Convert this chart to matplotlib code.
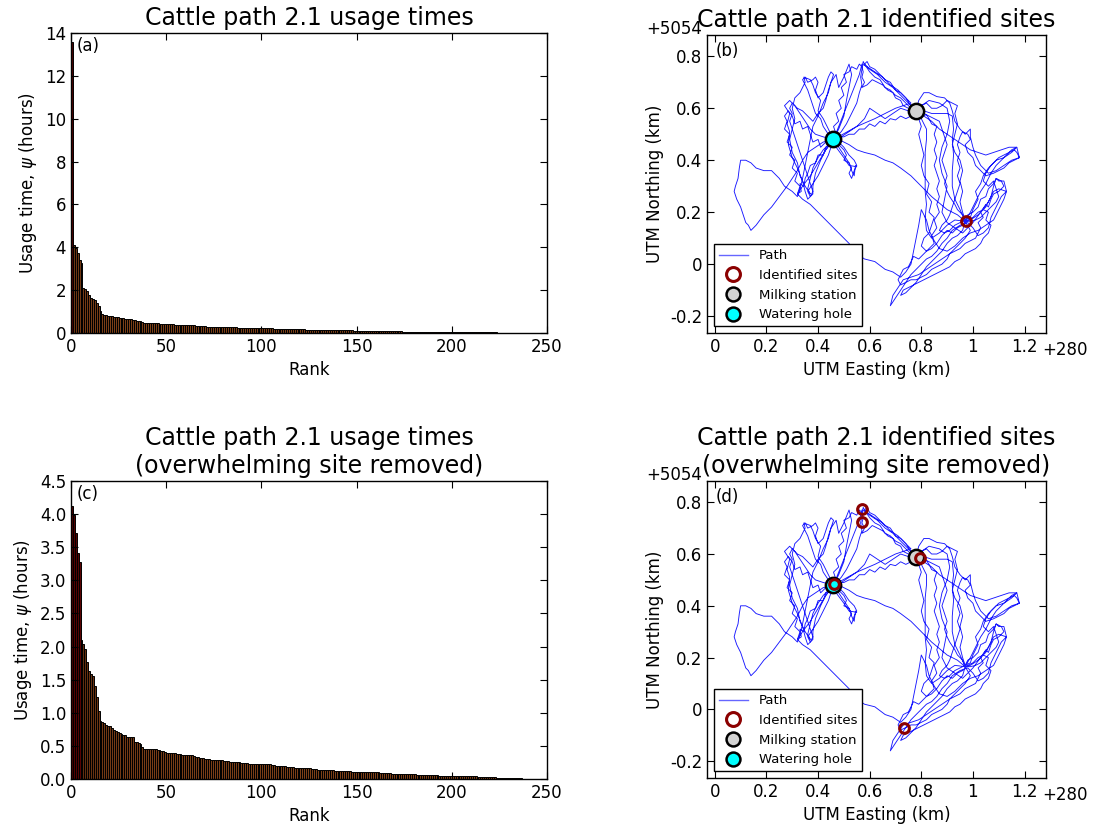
import matplotlib
matplotlib.use("Agg")
import matplotlib.pyplot as plt
from matplotlib.colors import LinearSegmentedColormap
from matplotlib.lines import Line2D
from matplotlib.ticker import FormatStrFormatter, FuncFormatter

plt.rcParams["axes.unicode_minus"] = False
plt.rcParams["font.family"] = "DejaVu Sans"

# usage times (hours), sorted by rank, overwhelming site removed
usage_removed = [
    4.12, 3.98, 3.72, 3.41, 3.27, 2.10, 2.04, 1.96, 1.76, 1.63,
    1.58, 1.56, 1.41, 1.24, 1.02, 0.87, 0.86, 0.84, 0.81, 0.80,
    0.80, 0.77, 0.74, 0.73, 0.71, 0.69, 0.68, 0.67, 0.66, 0.64,
    0.64, 0.63, 0.63, 0.56, 0.56, 0.55, 0.53, 0.48, 0.46, 0.46,
    0.46, 0.46, 0.45, 0.45, 0.45, 0.44, 0.44, 0.42, 0.42, 0.41,
    0.40, 0.40, 0.40, 0.39, 0.39, 0.38, 0.38, 0.38, 0.37, 0.37,
    0.37, 0.36, 0.36, 0.36, 0.35, 0.34, 0.33, 0.32, 0.31, 0.31,
    0.30, 0.30, 0.30, 0.29, 0.29, 0.29, 0.29, 0.28, 0.28, 0.28,
    0.27, 0.27, 0.27, 0.26, 0.26, 0.26, 0.25, 0.25, 0.25, 0.24,
    0.24, 0.24, 0.24, 0.23, 0.23, 0.23, 0.23, 0.23, 0.23, 0.23,
    0.23, 0.22, 0.22, 0.22, 0.22, 0.21, 0.21, 0.20, 0.20, 0.20,
    0.19, 0.19, 0.19, 0.18, 0.18, 0.18, 0.18, 0.17, 0.17, 0.17,
    0.17, 0.17, 0.16, 0.16, 0.16, 0.16, 0.15, 0.15, 0.15, 0.14,
    0.14, 0.14, 0.14, 0.14, 0.13, 0.13, 0.13, 0.13, 0.12, 0.12,
    0.12, 0.12, 0.12, 0.12, 0.12, 0.12, 0.12, 0.11, 0.11, 0.11,
    0.11, 0.11, 0.11, 0.11, 0.11, 0.11, 0.11, 0.10, 0.10, 0.10,
    0.10, 0.10, 0.09, 0.09, 0.09, 0.09, 0.09, 0.09, 0.08, 0.08,
    0.08, 0.08, 0.08, 0.07, 0.07, 0.07, 0.07, 0.07, 0.07, 0.07,
    0.07, 0.06, 0.06, 0.06, 0.06, 0.06, 0.06, 0.06, 0.06, 0.06,
    0.06, 0.06, 0.06, 0.05, 0.05, 0.05, 0.05, 0.05, 0.05, 0.05,
    0.05, 0.05, 0.05, 0.04, 0.04, 0.04, 0.04, 0.04, 0.04, 0.04,
    0.04, 0.04, 0.04, 0.03, 0.03, 0.03, 0.03, 0.03, 0.03, 0.03,
    0.03, 0.025, 0.025, 0.02, 0.02, 0.02, 0.02, 0.02, 0.015, 0.015,
    0.015, 0.012, 0.012, 0.01, 0.01, 0.008, 0.008, 0.006, 0.005, 0.005,
]
overwhelming_site = [13.6]
usage_all = overwhelming_site + usage_removed

# GPS track legs, (easting, northing) in km relative to (280 E, 5054 N)
leg_01 = [(0.78, 0.59), (0.76, 0.61), (0.74, 0.63), (0.72, 0.65), (0.69, 0.68), (0.66, 0.70), (0.63, 0.73),
          (0.60, 0.75), (0.58, 0.77), (0.575, 0.78), (0.57, 0.75), (0.565, 0.72), (0.57, 0.69), (0.56, 0.66),
          (0.55, 0.62), (0.53, 0.58), (0.51, 0.54), (0.49, 0.51), (0.46, 0.48)]
leg_02 = [(0.44, 0.46), (0.42, 0.44), (0.40, 0.41), (0.38, 0.37), (0.37, 0.33), (0.36, 0.29), (0.37, 0.27),
          (0.35, 0.30), (0.33, 0.34), (0.32, 0.39), (0.30, 0.43), (0.29, 0.48), (0.30, 0.52), (0.31, 0.56),
          (0.30, 0.60), (0.31, 0.64), (0.33, 0.66), (0.35, 0.70), (0.345, 0.72), (0.37, 0.71), (0.38, 0.69),
          (0.39, 0.66), (0.41, 0.63), (0.40, 0.59), (0.42, 0.56), (0.44, 0.52), (0.46, 0.48)]
leg_03 = [(0.48, 0.52), (0.50, 0.57), (0.51, 0.63), (0.52, 0.68), (0.53, 0.73), (0.52, 0.77), (0.50, 0.72),
          (0.48, 0.68), (0.47, 0.73), (0.45, 0.70), (0.44, 0.66), (0.42, 0.62), (0.40, 0.57), (0.38, 0.53),
          (0.37, 0.48), (0.36, 0.43), (0.35, 0.38), (0.34, 0.33), (0.33, 0.29), (0.32, 0.26)]
leg_04 = [(0.30, 0.28), (0.27, 0.30), (0.25, 0.33), (0.22, 0.36), (0.19, 0.36), (0.16, 0.37), (0.14, 0.39),
          (0.12, 0.40), (0.10, 0.40), (0.095, 0.37), (0.09, 0.33), (0.08, 0.30), (0.075, 0.28), (0.085, 0.25),
          (0.10, 0.22), (0.11, 0.19), (0.12, 0.16), (0.13, 0.15), (0.14, 0.13), (0.16, 0.15), (0.19, 0.19),
          (0.22, 0.22), (0.25, 0.26), (0.28, 0.30), (0.30, 0.33), (0.32, 0.36), (0.34, 0.40), (0.36, 0.43),
          (0.39, 0.45), (0.42, 0.47), (0.46, 0.48)]
leg_05 = [(0.49, 0.475), (0.52, 0.46), (0.55, 0.44), (0.58, 0.43), (0.62, 0.42), (0.66, 0.40), (0.69, 0.39),
          (0.72, 0.37), (0.76, 0.34), (0.79, 0.31), (0.81, 0.29), (0.84, 0.26), (0.87, 0.235), (0.90, 0.21),
          (0.94, 0.19), (0.97, 0.165)]
leg_06 = [(0.99, 0.17), (1.02, 0.19), (1.05, 0.22), (1.07, 0.26), (1.08, 0.30), (1.09, 0.33), (1.10, 0.32),
          (1.12, 0.32), (1.13, 0.28), (1.11, 0.26), (1.09, 0.22), (1.07, 0.18), (1.06, 0.14), (1.04, 0.12),
          (1.02, 0.11), (1.00, 0.14), (0.98, 0.16), (0.95, 0.15), (0.92, 0.13), (0.90, 0.10), (0.88, 0.08),
          (0.86, 0.05), (0.84, 0.03), (0.82, 0.02), (0.80, 0.00), (0.78, -0.02), (0.76, -0.04), (0.74, -0.07),
          (0.72, -0.10), (0.70, -0.13), (0.68, -0.16), (0.69, -0.12), (0.71, -0.09), (0.73, -0.06),
          (0.76, -0.05), (0.79, -0.04), (0.82, -0.02), (0.85, 0.00), (0.88, 0.02), (0.91, 0.04), (0.94, 0.07),
          (0.97, 0.10), (0.99, 0.13), (0.97, 0.165)]
leg_07 = [(0.99, 0.20), (1.01, 0.24), (1.03, 0.28), (1.05, 0.31), (1.07, 0.35), (1.09, 0.38), (1.12, 0.41),
          (1.15, 0.44), (1.17, 0.45), (1.18, 0.41), (1.15, 0.40), (1.12, 0.38), (1.09, 0.36), (1.06, 0.35),
          (1.03, 0.38), (1.01, 0.42), (1.00, 0.45), (0.99, 0.49), (0.99, 0.52), (0.97, 0.50), (0.95, 0.52),
          (0.93, 0.55), (0.92, 0.59), (0.91, 0.62), (0.89, 0.64), (0.86, 0.645), (0.83, 0.66), (0.81, 0.66),
          (0.79, 0.63), (0.78, 0.59)]
leg_08 = [(0.80, 0.56), (0.82, 0.52), (0.82, 0.48), (0.815, 0.43), (0.815, 0.38), (0.815, 0.33), (0.815, 0.28),
          (0.82, 0.23), (0.815, 0.18), (0.82, 0.13), (0.84, 0.10), (0.87, 0.12), (0.90, 0.15), (0.93, 0.17),
          (0.97, 0.165), (0.95, 0.21), (0.93, 0.25), (0.92, 0.30), (0.92, 0.36), (0.925, 0.42), (0.92, 0.48),
          (0.925, 0.52), (0.92, 0.57), (0.90, 0.58), (0.87, 0.58), (0.84, 0.58), (0.81, 0.59), (0.78, 0.59)]
leg_09 = [(0.75, 0.59), (0.72, 0.60), (0.69, 0.58), (0.66, 0.56), (0.63, 0.58), (0.60, 0.60), (0.58, 0.56),
          (0.55, 0.53), (0.52, 0.51), (0.49, 0.49), (0.46, 0.48)]
leg_10 = [(0.48, 0.45), (0.50, 0.42), (0.52, 0.39), (0.53, 0.36), (0.54, 0.34), (0.545, 0.38), (0.55, 0.375),
          (0.52, 0.38), (0.50, 0.41), (0.47, 0.45), (0.46, 0.48)]
leg_11 = [(0.43, 0.44), (0.41, 0.40), (0.39, 0.35), (0.38, 0.30), (0.38, 0.27), (0.36, 0.25), (0.35, 0.28),
          (0.34, 0.32), (0.32, 0.37), (0.30, 0.41), (0.285, 0.46), (0.29, 0.51), (0.28, 0.54), (0.29, 0.58),
          (0.27, 0.61), (0.29, 0.63), (0.31, 0.61), (0.33, 0.58), (0.35, 0.55), (0.37, 0.52), (0.39, 0.50),
          (0.42, 0.49), (0.46, 0.48)]
leg_12 = [(0.48, 0.53), (0.50, 0.58), (0.52, 0.63), (0.54, 0.68), (0.56, 0.73), (0.57, 0.77), (0.59, 0.76),
          (0.62, 0.74), (0.65, 0.72), (0.68, 0.69), (0.71, 0.67), (0.74, 0.64), (0.76, 0.61), (0.78, 0.59)]
leg_13 = [(0.80, 0.61), (0.83, 0.63), (0.87, 0.62), (0.90, 0.60), (0.91, 0.55), (0.90, 0.50), (0.88, 0.45),
          (0.87, 0.40), (0.88, 0.35), (0.90, 0.30), (0.89, 0.25), (0.88, 0.20), (0.90, 0.16), (0.93, 0.14),
          (0.96, 0.12), (1.00, 0.16), (1.03, 0.20), (1.06, 0.24), (1.08, 0.28), (1.10, 0.29), (1.13, 0.28),
          (1.12, 0.25), (1.10, 0.21), (1.08, 0.17), (1.05, 0.15), (1.02, 0.13), (0.99, 0.12), (0.96, 0.10),
          (0.93, 0.07), (0.90, 0.05), (0.87, 0.06), (0.85, 0.09), (0.83, 0.13), (0.82, 0.17), (0.80, 0.21),
          (0.79, 0.15), (0.78, 0.10), (0.77, 0.05), (0.76, 0.00), (0.74, -0.03), (0.72, -0.05)]
leg_14 = [(0.69, -0.03), (0.66, -0.02), (0.62, 0.01), (0.58, 0.02), (0.55, 0.04), (0.52, 0.08), (0.49, 0.11),
          (0.46, 0.14), (0.43, 0.17), (0.40, 0.20), (0.37, 0.23), (0.34, 0.25), (0.32, 0.27), (0.34, 0.30),
          (0.37, 0.34), (0.40, 0.39), (0.43, 0.44), (0.46, 0.48)]
leg_15 = [(0.45, 0.46), (0.43, 0.45), (0.42, 0.42), (0.40, 0.42), (0.39, 0.39), (0.37, 0.38), (0.36, 0.35),
          (0.35, 0.33), (0.345, 0.30), (0.33, 0.31), (0.335, 0.28), (0.32, 0.27), (0.33, 0.30), (0.31, 0.32),
          (0.32, 0.35), (0.30, 0.37), (0.31, 0.40), (0.29, 0.42), (0.30, 0.45), (0.28, 0.47), (0.29, 0.50),
          (0.27, 0.52), (0.28, 0.55), (0.27, 0.57), (0.285, 0.59), (0.30, 0.57), (0.31, 0.54), (0.33, 0.55),
          (0.34, 0.52), (0.36, 0.53), (0.37, 0.50), (0.38, 0.47), (0.40, 0.48), (0.41, 0.45), (0.43, 0.47),
          (0.45, 0.47)]
leg_16 = [(0.47, 0.50), (0.46, 0.53), (0.48, 0.55), (0.47, 0.58), (0.49, 0.60), (0.48, 0.63), (0.50, 0.65),
          (0.49, 0.68), (0.51, 0.70), (0.50, 0.73), (0.52, 0.74), (0.53, 0.76), (0.55, 0.75), (0.56, 0.77),
          (0.57, 0.76), (0.575, 0.74), (0.57, 0.72), (0.58, 0.70), (0.57, 0.68), (0.59, 0.69), (0.61, 0.71),
          (0.63, 0.70), (0.65, 0.69), (0.67, 0.67), (0.69, 0.66), (0.70, 0.64), (0.72, 0.63), (0.73, 0.61),
          (0.75, 0.60), (0.77, 0.60)]
leg_17 = [(0.79, 0.58), (0.80, 0.57), (0.82, 0.575), (0.83, 0.56), (0.84, 0.54), (0.86, 0.53), (0.85, 0.50),
          (0.86, 0.47), (0.85, 0.44), (0.86, 0.41), (0.85, 0.38), (0.86, 0.35), (0.87, 0.32), (0.86, 0.29),
          (0.87, 0.26), (0.86, 0.23), (0.87, 0.20), (0.85, 0.17), (0.86, 0.14), (0.84, 0.11), (0.85, 0.08),
          (0.83, 0.06), (0.81, 0.04), (0.79, 0.02), (0.77, 0.03), (0.76, 0.01), (0.75, -0.01), (0.73, -0.02),
          (0.72, -0.04), (0.71, -0.06), (0.72, -0.08), (0.74, -0.07), (0.76, -0.06), (0.78, -0.06),
          (0.80, -0.05), (0.82, -0.04), (0.84, -0.02), (0.86, -0.01), (0.88, 0.00), (0.90, 0.02), (0.91, 0.04),
          (0.93, 0.05), (0.95, 0.06), (0.97, 0.08), (0.99, 0.09), (1.01, 0.10), (1.02, 0.12), (1.03, 0.14),
          (1.02, 0.16), (1.04, 0.18), (1.03, 0.20), (1.05, 0.23), (1.06, 0.22), (1.07, 0.25), (1.08, 0.27),
          (1.10, 0.28), (1.12, 0.30), (1.11, 0.32), (1.09, 0.33), (1.08, 0.31), (1.06, 0.29), (1.05, 0.26),
          (1.03, 0.25), (1.02, 0.22), (1.00, 0.20), (0.98, 0.19), (0.97, 0.17)]
leg_18 = [(0.99, 0.18), (1.00, 0.21), (1.02, 0.25), (1.01, 0.28), (1.03, 0.31), (1.04, 0.34), (1.06, 0.37),
          (1.08, 0.39), (1.10, 0.41), (1.12, 0.42), (1.14, 0.43), (1.16, 0.44), (1.17, 0.43), (1.18, 0.41),
          (1.16, 0.40), (1.14, 0.39), (1.12, 0.37), (1.10, 0.36), (1.08, 0.35), (1.05, 0.34), (1.03, 0.36),
          (1.01, 0.38), (1.00, 0.41), (0.98, 0.43), (0.97, 0.46), (0.99, 0.48), (0.98, 0.50), (0.96, 0.51),
          (0.95, 0.49), (0.94, 0.46), (0.95, 0.43), (0.94, 0.40), (0.95, 0.37), (0.94, 0.34), (0.95, 0.31),
          (0.94, 0.28), (0.93, 0.25), (0.92, 0.22), (0.91, 0.19), (0.90, 0.17), (0.88, 0.15), (0.87, 0.13),
          (0.89, 0.12), (0.91, 0.13), (0.93, 0.15), (0.95, 0.16), (0.97, 0.17)]
leg_19 = [(0.96, 0.20), (0.95, 0.24), (0.96, 0.28), (0.95, 0.32), (0.96, 0.36), (0.95, 0.40), (0.93, 0.43),
          (0.92, 0.46), (0.93, 0.50), (0.94, 0.54), (0.93, 0.58), (0.94, 0.61), (0.92, 0.62), (0.90, 0.63),
          (0.88, 0.61), (0.86, 0.60), (0.84, 0.60), (0.82, 0.62), (0.80, 0.61), (0.78, 0.59)]
leg_20 = [(0.76, 0.57), (0.74, 0.56), (0.72, 0.57), (0.70, 0.555), (0.68, 0.56), (0.66, 0.54), (0.64, 0.55),
          (0.62, 0.53), (0.60, 0.54), (0.58, 0.52), (0.56, 0.52), (0.54, 0.50), (0.52, 0.50), (0.50, 0.49),
          (0.48, 0.49), (0.46, 0.48)]
leg_21 = [(0.44, 0.50), (0.42, 0.53), (0.41, 0.56), (0.39, 0.58), (0.38, 0.61), (0.37, 0.64), (0.36, 0.67),
          (0.35, 0.69), (0.34, 0.71), (0.35, 0.72), (0.36, 0.70), (0.38, 0.71), (0.39, 0.72), (0.40, 0.70),
          (0.39, 0.67), (0.40, 0.64), (0.42, 0.66), (0.43, 0.69), (0.44, 0.72), (0.45, 0.74), (0.46, 0.73),
          (0.45, 0.70), (0.44, 0.67), (0.43, 0.63), (0.42, 0.60), (0.40, 0.58), (0.38, 0.55), (0.36, 0.57),
          (0.34, 0.59), (0.32, 0.60), (0.30, 0.62), (0.29, 0.60), (0.30, 0.58), (0.29, 0.55), (0.30, 0.52),
          (0.31, 0.49), (0.32, 0.46), (0.33, 0.43), (0.34, 0.40), (0.35, 0.37), (0.36, 0.34), (0.37, 0.31),
          (0.38, 0.28), (0.37, 0.26), (0.36, 0.28), (0.38, 0.31), (0.40, 0.34), (0.42, 0.38), (0.44, 0.42),
          (0.45, 0.45), (0.46, 0.48)]
leg_22 = [(0.48, 0.46), (0.50, 0.44), (0.51, 0.42), (0.50, 0.40), (0.52, 0.39), (0.53, 0.37), (0.52, 0.35),
          (0.53, 0.33), (0.54, 0.36), (0.55, 0.38), (0.54, 0.40), (0.52, 0.42), (0.50, 0.45), (0.48, 0.47),
          (0.46, 0.48)]
leg_23 = [(0.55, 0.53), (0.62, 0.56), (0.70, 0.60), (0.76, 0.62), (0.74, 0.64), (0.72, 0.66), (0.70, 0.67),
          (0.68, 0.70), (0.66, 0.71), (0.64, 0.73), (0.62, 0.75), (0.60, 0.76), (0.59, 0.78), (0.58, 0.77),
          (0.60, 0.74), (0.62, 0.72), (0.64, 0.71), (0.66, 0.68), (0.68, 0.67), (0.70, 0.65), (0.72, 0.64),
          (0.74, 0.62), (0.76, 0.60), (0.78, 0.59)]
leg_24 = [(0.79, 0.56), (0.80, 0.53), (0.79, 0.50), (0.80, 0.46), (0.81, 0.42), (0.80, 0.38), (0.81, 0.34),
          (0.83, 0.31), (0.82, 0.27), (0.84, 0.24), (0.83, 0.20), (0.85, 0.18), (0.84, 0.15), (0.83, 0.12),
          (0.81, 0.10), (0.80, 0.07), (0.82, 0.05), (0.84, 0.06), (0.86, 0.08), (0.88, 0.11), (0.90, 0.13),
          (0.92, 0.12), (0.94, 0.14), (0.96, 0.15), (0.98, 0.17), (1.00, 0.18), (1.02, 0.20), (1.04, 0.21),
          (1.06, 0.20), (1.05, 0.17), (1.07, 0.15), (1.06, 0.12), (1.04, 0.10), (1.03, 0.08), (1.01, 0.06),
          (0.99, 0.05), (0.97, 0.04), (0.95, 0.02), (0.93, 0.01), (0.91, -0.01), (0.89, -0.02), (0.87, -0.03),
          (0.85, -0.04), (0.83, -0.05), (0.81, -0.06), (0.79, -0.07), (0.77, -0.08), (0.75, -0.09),
          (0.73, -0.10), (0.72, -0.12), (0.74, -0.11), (0.76, -0.09), (0.78, -0.07), (0.80, -0.04),
          (0.82, -0.01), (0.84, 0.01), (0.86, 0.03), (0.88, 0.05), (0.90, 0.08), (0.92, 0.10), (0.94, 0.11),
          (0.96, 0.13), (0.97, 0.165)]
leg_25 = [(0.96, 0.19), (0.94, 0.21), (0.93, 0.23), (0.91, 0.26), (0.90, 0.28), (0.89, 0.31), (0.90, 0.34),
          (0.89, 0.37), (0.88, 0.40), (0.89, 0.43), (0.90, 0.46), (0.89, 0.49), (0.88, 0.52), (0.87, 0.55),
          (0.85, 0.56), (0.83, 0.57), (0.81, 0.58), (0.79, 0.59)]
leg_26 = [(0.81, 0.57), (0.84, 0.55), (0.87, 0.52), (0.90, 0.50), (0.93, 0.48), (0.96, 0.46), (0.99, 0.44),
          (1.02, 0.43), (1.05, 0.42), (1.08, 0.43), (1.11, 0.44), (1.14, 0.45), (1.17, 0.45), (1.15, 0.43),
          (1.12, 0.41), (1.09, 0.40), (1.07, 0.38), (1.05, 0.35), (1.04, 0.32), (1.06, 0.30), (1.08, 0.32),
          (1.09, 0.29), (1.10, 0.26), (1.09, 0.24), (1.07, 0.22), (1.05, 0.20), (1.03, 0.18), (1.01, 0.17),
          (0.99, 0.165), (0.97, 0.165)]
path_legs = [leg_01, leg_02, leg_03, leg_04, leg_05, leg_06, leg_07, leg_08, leg_09, leg_10, leg_11, leg_12,
             leg_13, leg_14, leg_15, leg_16, leg_17, leg_18, leg_19, leg_20, leg_21, leg_22, leg_23, leg_24,
             leg_25, leg_26]

milking_station = (0.778, 0.589)
watering_hole = (0.458, 0.480)
sites_all_east = [0.973]
sites_all_north = [0.166]
sites_removed_east = [0.571, 0.571, 0.794, 0.461, 0.732]
sites_removed_north = [0.772, 0.724, 0.583, 0.486, -0.071]

bar_cmap = LinearSegmentedColormap.from_list(
    "usage", [(0.0, "#7e4018"), (0.55, "#5e2c0e"), (0.7, "#5a0505"), (1.0, "#500000")]
)

path_east = [p[0] for leg in path_legs for p in leg]
path_north = [p[1] for leg in path_legs for p in leg]


def style_axes(ax):
    ax.tick_params(direction="in", top=True, right=True, length=5, width=0.8, labelsize=12)
    for sp in ax.spines.values():
        sp.set_linewidth(1.0)


def draw_bars(ax, values, ymax, yticks, fmt, title, tag):
    top = max(values)
    colors = [bar_cmap(v / top) for v in values]
    ax.bar(range(len(values)), values, width=1.0, align="edge", color=colors,
           edgecolor="black", linewidth=0.7)
    ax.set_xlim(0, 250)
    ax.set_ylim(0, ymax)
    ax.set_yticks(yticks)
    ax.yaxis.set_major_formatter(FormatStrFormatter(fmt))
    ax.set_xlabel("Rank", fontsize=12)
    ax.set_ylabel(r"Usage time, $\psi$ (hours)", fontsize=12)
    ax.set_title(title, fontsize=17, pad=6)
    ax.text(0.012, 0.985, tag, transform=ax.transAxes, ha="left", va="top", fontsize=12)
    style_axes(ax)


def draw_map(ax, site_e, site_n, title, tag):
    ax.plot(path_east, path_north, color="blue", linewidth=0.65, alpha=0.9)
    ax.plot(*milking_station, "o", ms=11, mfc="#d3d3d3", mec="black", mew=1.8)
    ax.plot(*watering_hole, "o", ms=11, mfc="cyan", mec="black", mew=1.8)
    ax.plot(site_e, site_n, "o", ms=7, mfc="none", mec="#8b0000", mew=2.2)
    ax.set_xlim(-0.03, 1.283)
    ax.set_ylim(-0.265, 0.882)
    ax.set_xticks([0, 0.2, 0.4, 0.6, 0.8, 1.0, 1.2])
    ax.set_yticks([-0.2, 0, 0.2, 0.4, 0.6, 0.8])
    fmt = FuncFormatter(lambda v, p: "%g" % round(v, 3))
    ax.xaxis.set_major_formatter(fmt)
    ax.yaxis.set_major_formatter(fmt)
    ax.set_xlabel("UTM Easting (km)", fontsize=12)
    ax.set_ylabel("UTM Northing (km)", fontsize=12)
    ax.set_title(title, fontsize=17, pad=6)
    ax.text(0.025, 0.975, tag, transform=ax.transAxes, ha="left", va="top", fontsize=12)
    ax.text(-0.015, 1.02, "+5054", transform=ax.transAxes, ha="right", va="center", fontsize=12)
    ax.text(0.99, -0.057, "+280", transform=ax.transAxes, ha="left", va="center", fontsize=12)
    handles = [
        Line2D([], [], color="blue", linewidth=1.0, alpha=0.6),
        Line2D([], [], marker="o", ls="none", ms=10, mfc="white", mec="#8b0000", mew=2.2),
        Line2D([], [], marker="o", ls="none", ms=10, mfc="#d3d3d3", mec="black", mew=1.8),
        Line2D([], [], marker="o", ls="none", ms=10, mfc="cyan", mec="black", mew=1.8),
    ]
    labels = ["Path", "Identified sites", "Milking station", "Watering hole"]
    leg = ax.legend(handles, labels, loc="lower left", fontsize=9.5, fancybox=False,
                    framealpha=1, edgecolor="black", borderaxespad=0.5, handlelength=2.2)
    leg.get_frame().set_linewidth(1.0)
    style_axes(ax)


fig = plt.figure(figsize=(10.94, 8.33), dpi=100)
ax_a = fig.add_axes([0.0649, 0.6002, 0.4351, 0.3602])
ax_b = fig.add_axes([0.6463, 0.6002, 0.3098, 0.3578])
ax_c = fig.add_axes([0.0649, 0.0648, 0.4351, 0.3578])
ax_d = fig.add_axes([0.6463, 0.0660, 0.3098, 0.3566])

draw_bars(ax_a, usage_all, 14, range(0, 15, 2), "%d",
          "Cattle path 2.1 usage times", "(a)")
draw_bars(ax_c, usage_removed, 4.5, [0, 0.5, 1, 1.5, 2, 2.5, 3, 3.5, 4, 4.5], "%.1f",
          "Cattle path 2.1 usage times\n(overwhelming site removed)", "(c)")
draw_map(ax_b, sites_all_east, sites_all_north,
         "Cattle path 2.1 identified sites", "(b)")
draw_map(ax_d, sites_removed_east, sites_removed_north,
         "Cattle path 2.1 identified sites\n(overwhelming site removed)", "(d)")

fig.savefig("out.png", dpi=100)
